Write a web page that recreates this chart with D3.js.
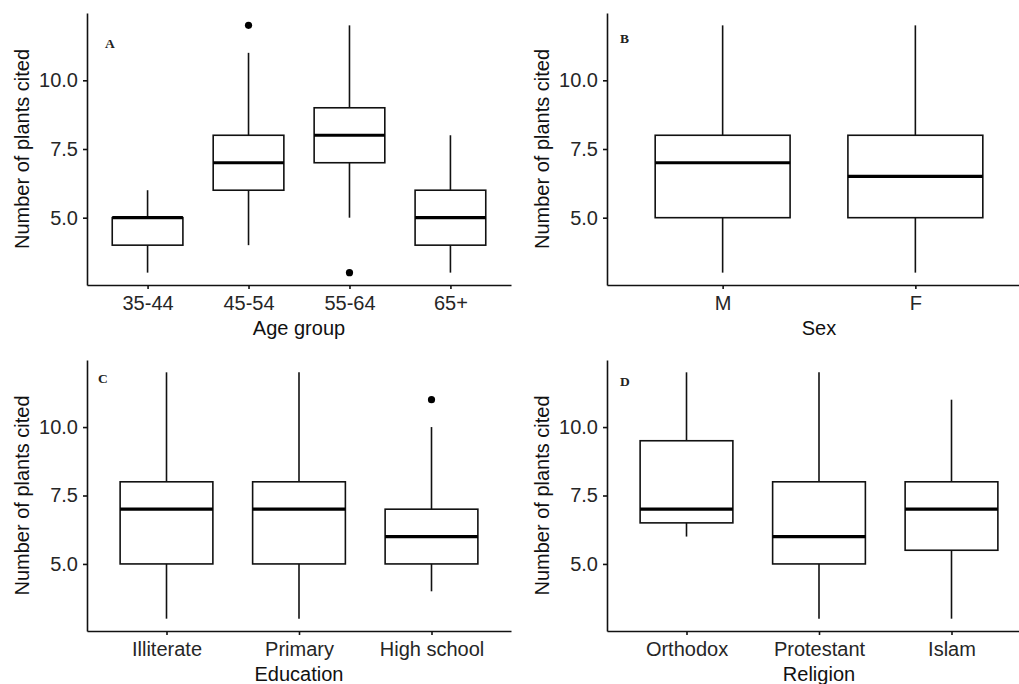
<!DOCTYPE html>
<meta charset="utf-8">
<head>
<style>
  body { margin: 0; background: #fff; }
  svg { display: block; }
  .axis text { font: 20px "Liberation Sans", Arial, sans-serif; fill: #262626; }
  .axis path, .axis line { fill: none; stroke: #111; stroke-width: 1.6px; }
  .title { font: 20px "Liberation Sans", Arial, sans-serif; fill: #111; }
  .tag { font: bold 13.5px "Liberation Serif", "Times New Roman", serif; fill: #222; }
  .box { fill: #fff; stroke: #111; stroke-width: 1.6px; }
  .whisker { stroke: #111; stroke-width: 1.6px; }
  .median { stroke: #000; stroke-width: 3.2px; }
  .outlier { fill: #000; }
</style>
</head>
<body>
<script src="https://d3js.org/d3.v7.min.js"></script>
<script>
// categories per panel
var ageGroups = ["35-44", "45-54", "55-64", "65+"];
var sexes = ["M", "F"];
var education = ["Illiterate", "Primary", "High school"];
var religions = ["Orthodox", "Protestant", "Islam"];

// box stats: [lower whisker, Q1, median, Q3, upper whisker]
var ageStats = [[3, 4, 5, 5, 6], [4, 6, 7, 8, 11], [5, 7, 8, 9, 12], [3, 4, 5, 6, 8]];
var ageOutliers = [[], [12], [3], []];
var sexStats = [[3, 5, 7, 8, 12], [3, 5, 6.5, 8, 12]];
var sexOutliers = [[], []];
var eduStats = [[3, 5, 7, 8, 12], [3, 5, 7, 8, 12], [4, 5, 6, 7, 10]];
var eduOutliers = [[], [], [11]];
var relStats = [[6, 6.5, 7, 9.5, 12], [3, 5, 6, 8, 12], [3, 5.5, 7, 8, 11]];
var relOutliers = [[], [], []];

var yTicks = [5.0, 7.5, 10.0];
var yDomain = [2.55, 12.45];

var svg = d3.select("body").append("svg")
    .attr("width", 1019)
    .attr("height", 684);

var panels = [
  {tag: "A", cats: ageGroups, stats: ageStats, out: ageOutliers, xTitle: "Age group",
   x0: 87, x1: 511, y0: 13, y1: 285, tagX: 105, tagY: 48},
  {tag: "B", cats: sexes, stats: sexStats, out: sexOutliers, xTitle: "Sex",
   x0: 607, x1: 1031, y0: 13, y1: 285, tagX: 620, tagY: 43},
  {tag: "C", cats: education, stats: eduStats, out: eduOutliers, xTitle: "Education",
   x0: 87, x1: 511, y0: 360, y1: 631, tagX: 98, tagY: 383},
  {tag: "D", cats: religions, stats: relStats, out: relOutliers, xTitle: "Religion",
   x0: 607, x1: 1031, y0: 360, y1: 631, tagX: 620, tagY: 386}
];

panels.forEach(function(p) {
  var x = d3.scalePoint()
      .domain(p.cats)
      .range([p.x0, p.x1])
      .padding(0.6);

  var y = d3.scaleLinear()
      .domain(yDomain)
      .range([p.y1, p.y0]);

  var bw = x.step() * 0.7;
  var g = svg.append("g");

  // whiskers
  g.selectAll(".whisker")
      .data(p.cats)
    .enter().append("line")
      .attr("class", "whisker")
      .attr("x1", function(d) { return x(d); })
      .attr("x2", function(d) { return x(d); })
      .attr("y1", function(d, i) { return y(p.stats[i][0]); })
      .attr("y2", function(d, i) { return y(p.stats[i][4]); });

  // boxes
  g.selectAll(".box")
      .data(p.cats)
    .enter().append("rect")
      .attr("class", "box")
      .attr("x", function(d) { return x(d) - bw / 2; })
      .attr("width", bw)
      .attr("y", function(d, i) { return y(p.stats[i][3]); })
      .attr("height", function(d, i) { return y(p.stats[i][1]) - y(p.stats[i][3]); });

  // medians
  g.selectAll(".median")
      .data(p.cats)
    .enter().append("line")
      .attr("class", "median")
      .attr("x1", function(d) { return x(d) - bw / 2; })
      .attr("x2", function(d) { return x(d) + bw / 2; })
      .attr("y1", function(d, i) { return y(p.stats[i][2]); })
      .attr("y2", function(d, i) { return y(p.stats[i][2]); });

  // outliers
  p.cats.forEach(function(c, i) {
    g.selectAll(null)
        .data(p.out[i])
      .enter().append("circle")
        .attr("class", "outlier")
        .attr("cx", x(c))
        .attr("cy", function(d) { return y(d); })
        .attr("r", 3.6);
  });

  // axes
  g.append("g")
      .attr("class", "axis")
      .attr("transform", "translate(" + p.x0 + ",0)")
      .call(d3.axisLeft(y).tickValues(yTicks).tickFormat(d3.format(".1f"))
        .tickSize(4).tickSizeOuter(0).tickPadding(5));

  g.append("g")
      .attr("class", "axis")
      .attr("transform", "translate(0," + p.y1 + ")")
      .call(d3.axisBottom(x).tickSize(4).tickSizeOuter(0).tickPadding(7));

  // titles
  g.append("text")
      .attr("class", "title")
      .attr("text-anchor", "middle")
      .attr("x", (p.x0 + p.x1) / 2)
      .attr("y", p.y1 + 50)
      .text(p.xTitle);

  g.append("text")
      .attr("class", "title")
      .attr("text-anchor", "middle")
      .attr("transform", "translate(" + (p.x0 - 58) + "," + (p.y0 + p.y1) / 2 + ") rotate(-90)")
      .text("Number of plants cited");

  g.append("text")
      .attr("class", "tag")
      .attr("x", p.tagX)
      .attr("y", p.tagY)
      .text(p.tag);
});
</script>
</body>
